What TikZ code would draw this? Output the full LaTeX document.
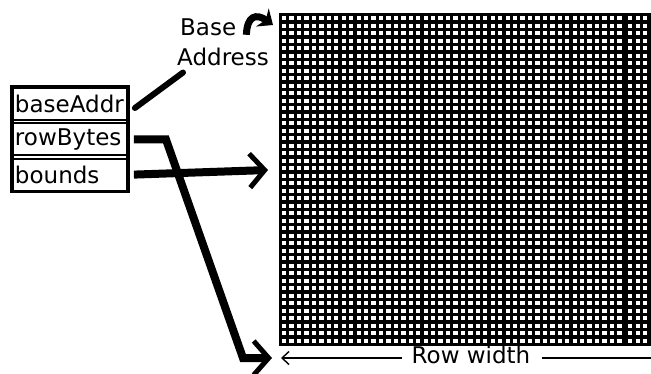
\documentclass[tikz,border=0pt]{standalone}
\usepackage{fontspec}
\setmainfont{DejaVu Sans}
\usetikzlibrary{arrows.meta, positioning}

\begin{document}
\begin{tikzpicture}[x=1pt, y=-1pt,
    lbl/.style={font=\fontsize{23}{28}\selectfont, inner sep=0pt},
    fieldbox/.style={draw, line width=1.8pt, text width=110pt, inner xsep=2pt,
      inner ysep=0pt, minimum height=32pt, align=left, font=\fontsize{23}{28}\selectfont},
    fatline/.style={line width=8pt},
    barb/.style={-{Straight Barb[length=15pt, width=34pt, line width=5pt]}}]
    \path[use as bounding box, fill=white] (0,0) rectangle (651,373);

    % Bit image: black grid with white cells
    \fill (279,13) rectangle (651,346);
    \foreach \r in {0,...,43} {
      \foreach \c in {0,...,45}
        \fill[white] ({282+7.45*\c},{16+7.5*\r}) rectangle +(4.3,4.4);
      \foreach \c in {0,1,2}
        \fill[white] ({628+7.5*\c},{16+7.5*\r}) rectangle +(4.3,4.4);
    }
    \coordinate (boundsTip) at (268,170);
    \coordinate (rowTip) at (272,358);
    \coordinate (baseTip) at (273,25);
    \coordinate (widthL) at (281,358);
    \coordinate (widthR) at (651,358);

    % BitMap record
    \node[fieldbox] (baseAddr) at (70,104) {baseAddr};
    \node[fieldbox, below=1.5pt of baseAddr] (rowBytes) {rowBytes};
    \node[fieldbox, below=1.5pt of rowBytes] (bounds) {bounds};
    \draw[line width=3.4pt] (baseAddr.north west) rectangle (bounds.south east);

    % Labels
    \node[lbl, anchor=base west] (baseLbl) at (180,35) {Base};
    \node[lbl, anchor=base west] (addrLbl) at (177,65) {Address};
    \node[lbl] (rowW) at (471,355) {Row width};

    % Connectors
    \draw[line width=6pt, line cap=round] ([shift={(7,4)}]baseAddr.east)
      -- ([shift={(6,7)}]addrLbl.south west);
    \draw[line width=7pt, -{Stealth[length=13pt, width=22pt]}]
      ([shift={(10,8)}]baseLbl.east) .. controls (247,16) and (256,13) .. (baseTip);
    \draw[fatline, barb] ([xshift=6]bounds.east) -- (boundsTip);
    \draw[fatline, barb] ([xshift=6]rowBytes.east) -- ++(32,0) -- (243,358) -- (rowTip);
    \draw[line width=1.4pt, -{Straight Barb[length=7pt, width=13pt, line width=1.4pt]}]
      ([xshift=-10]rowW.west |- widthL) -- (widthL);
    \draw[line width=1.4pt] ([xshift=12]rowW.east |- widthR) -- (widthR);
\end{tikzpicture}
\end{document}
